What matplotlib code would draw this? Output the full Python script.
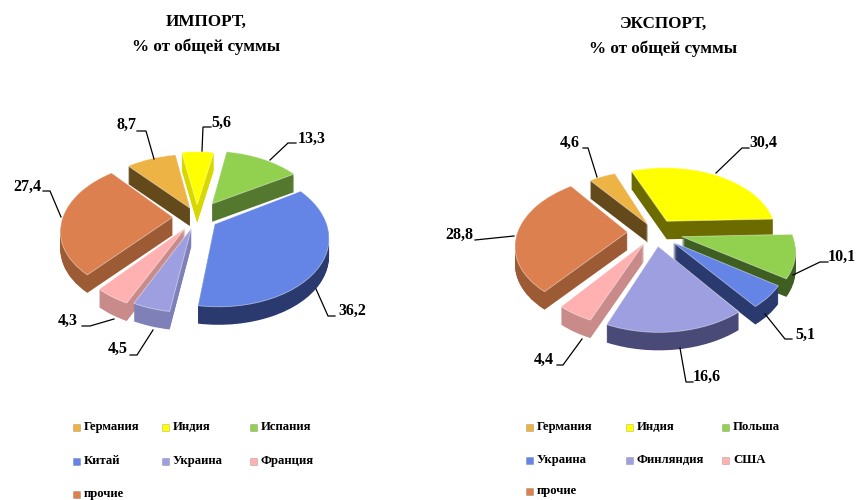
import numpy as np
import matplotlib
matplotlib.use("Agg")
import matplotlib.pyplot as plt
from matplotlib.path import Path
from matplotlib.patches import Rectangle
from matplotlib.transforms import Transform, Affine2D

plt.rcParams['font.family'] = ['Liberation Serif', 'DejaVu Serif']
plt.rcParams['font.weight'] = 'bold'

# ---------- data ----------
import_names = ['Германия', 'Индия', 'Испания', 'Китай', 'Украина', 'Франция', 'прочие']
import_values = [8.7, 5.6, 13.3, 36.2, 4.5, 4.3, 27.4]
export_names = ['Германия', 'Индия', 'Польша', 'Украина', 'Финляндия', 'США', 'прочие']
export_values = [4.6, 30.4, 10.1, 5.1, 16.6, 4.4, 28.8]

# ---------- style ----------
top_colors = ['#EDB345', '#FFFF00', '#92D050', '#6585E6', '#9D9FE0', '#FFB0B0', '#DD804F']
import_sides = ['#644A1A', '#D8D800', '#55782F', '#2A3A6E', '#7F80B8', '#C98A8A', '#9C5A35']
export_sides = ['#644A1A', '#6B6B00', '#3F5F22', '#2A3A6E', '#4A4A78', '#C98A8A', '#9C5A35']
import_explode = [0.15, 0.19, 0.25, 0.19, 0.17, 0.19, 0.22]
export_explode = [0.13, 0.20, 0.25, 0.22, 0.21, 0.19, 0.25]
RX, PERSP, SQUASH, DEPTH = 110.0, 0.17, 0.60, 18


class Perspective(Transform):
    """Tilts the flat pie: the back of the disc recedes, the front comes closer."""
    input_dims = output_dims = 2
    has_inverse = False

    def transform_non_affine(self, values):
        v = np.asarray(values, float)
        d = 1 + PERSP * v[:, 1]
        return np.column_stack([v[:, 0] / d, SQUASH * v[:, 1] / d])

    def transform_path_non_affine(self, path):
        return Path(self.transform_non_affine(path.vertices), path.codes)


fig = plt.figure(figsize=(8.57, 5.0), dpi=100, facecolor='white')
W, H = 857, 500


def pie3d(values, explode, sides, start, cx, cy):
    ax = fig.add_axes([0, 0, 1, 1], facecolor='none')
    persp = Perspective()
    kw = dict(explode=explode, startangle=start, counterclock=False, radius=1)
    for k in range(DEPTH, 0, -1):
        wedges, _ = ax.pie(values, colors=sides, wedgeprops=dict(linewidth=0), **kw)
        for w in wedges:
            mid = np.radians((w.theta1 + w.theta2) / 2)
            w.set_transform(persp + ax.transData + Affine2D().translate(0, -k))
            w.set_zorder(1 - 0.1 * np.sin(mid))
    wedges, _ = ax.pie(values, colors=top_colors,
                       wedgeprops=dict(linewidth=0.6, edgecolor='#FFFFFF80'), **kw)
    for w in wedges:
        w.set_transform(persp + ax.transData)
        w.set_zorder(3)
    ax.set_aspect('auto')
    ax.set_xlim(-cx / RX, (W - cx) / RX)
    ax.set_ylim(-(H - cy) / RX, cy / RX)
    ax.axis('off')


pie3d(import_values, import_explode, import_sides, 131, 197, 217)
pie3d(export_values, export_explode, export_sides, 128, 655, 232)

# ---------- annotation layer in pixel coordinates ----------
ov = fig.add_axes([0, 0, 1, 1], facecolor='none', zorder=5)
ov.set_xlim(0, W)
ov.set_ylim(H, 0)
ov.axis('off')

titles = [(206, 21.5, 'ИМПОРТ,'), (206, 46.5, '% от общей суммы'),
          (663, 24, 'ЭКСПОРТ,'), (663, 49, '% от общей суммы')]
for x, y, s in titles:
    ov.text(x, y, s, ha='center', va='center', fontsize=12.3, fontweight='bold', color='black')

import_labels = ['8,7', '5,6', '13,3', '36,2', '4,5', '4,3', '27,4']
import_label_xy = [(127, 125), (221, 123), (312, 139), (352, 311), (118, 349), (68, 321), (27, 187)]
import_leaders = [[(137, 131), (146, 131), (154, 159)],
                  [(211, 127), (203, 127), (202, 151)],
                  [(296, 143), (288, 143), (270, 160)],
                  [(335, 316), (328, 316), (316, 289)],
                  [(130, 355), (137, 355), (153, 330)],
                  [(82, 326), (90, 326), (114, 319)],
                  [(43, 191), (50, 191), (61, 217)]]
export_labels = ['4,6', '30,4', '10,1', '5,1', '16,6', '4,4', '28,8']
export_label_xy = [(570, 143), (763, 143), (842, 257), (805, 335), (707, 377), (544, 360), (459, 235)]
export_leaders = [[(583, 148), (588, 148), (597, 177)],
                  [(749, 148), (742, 148), (716, 173)],
                  [(828, 262), (820, 262), (793, 275)],
                  [(792, 339), (785, 339), (765, 314)],
                  [(693, 382), (686, 382), (680, 348)],
                  [(557, 365), (563, 365), (582, 339)],
                  [(475, 240), (514, 236)]]
for labels, xys, leaders in [(import_labels, import_label_xy, import_leaders),
                             (export_labels, export_label_xy, export_leaders)]:
    for s, (x, y), line in zip(labels, xys, leaders):
        ov.text(x, y, s, ha='center', va='center', fontsize=11.5, fontweight='bold', color='black')
        xs, ys = zip(*line)
        ov.plot(xs, ys, color='black', lw=0.9, solid_joinstyle='miter')


def legend(names, xs, ys):
    grid = [(x, y) for y in ys for x in xs]
    for name, color, (x, y) in zip(names, top_colors, grid):
        ov.add_patch(Rectangle((x - 10.5, y - 3.5), 7, 7, facecolor=color, edgecolor='#00000040', lw=0.4))
        ov.text(x, y, name, ha='left', va='center', fontsize=9.2, fontweight='bold', color='black')


legend(import_names, [84, 173, 261], [427, 461, 494])
legend(export_names, [537, 637, 733], [427, 460, 491])

fig.savefig('out.png', dpi=100)
